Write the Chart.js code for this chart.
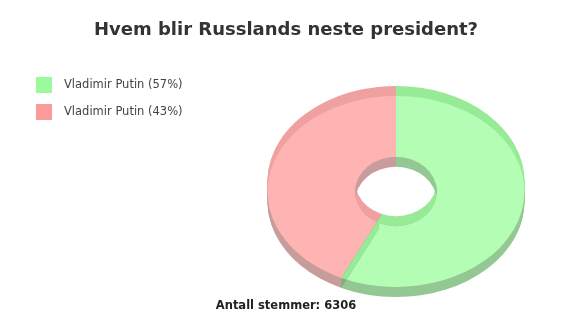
<!DOCTYPE html>
<html>
<head>
<meta charset="utf-8">
<title>Hvem blir Russlands neste president?</title>
<script src="https://cdn.jsdelivr.net/npm/chart.js@4.4.1/dist/chart.umd.min.js"></script>
<style>
  html, body { margin: 0; padding: 0; background: #fff; }
  #wrap { width: 588px; height: 329px; }
</style>
</head>
<body>
<div id="wrap"><canvas id="poll"></canvas></div>
<script>
const labels = ['Vladimir Putin', 'Vladimir Putin'];
const votes = [57, 43];          // share of the votes, %
const totalVotes = 6306;

const faceColors = ['#b4fdb4', '#ffb4b4'];
const rimColors = ['#97eb97', '#efa0a0'];
const wallColors = ['#93c793', '#c99c9c'];
const legendColors = ['#9cfa9c', '#fe9a9a'];

const TILT = 0.743;      // how flat the top of the ring is drawn
const HOLE_TILT = 0.85;  // the inner rim reads a bit rounder
const DEPTH = 10;        // thickness of the ring in px

Chart.defaults.font.family = '"DejaVu Sans", Verdana, sans-serif';

function swatch(color) {
  const c = document.createElement('canvas');
  c.width = 16;
  c.height = 16;
  const g = c.getContext('2d');
  g.fillStyle = color;
  g.fillRect(0, 0, 16, 16);
  return c;
}

function wedge(ctx, a, dy, r, k) {
  ctx.beginPath();
  ctx.moveTo(a.x, a.y + dy);
  ctx.ellipse(a.x, a.y + dy, r, r * k, 0, a.startAngle, a.endAngle);
  ctx.closePath();
}

function oval(ctx, a, dy, r, k) {
  ctx.beginPath();
  ctx.ellipse(a.x, a.y + dy, r, r * k, 0, 0, Math.PI * 2);
}

// fixed legend column so the ring sits right of it
const legendWidth = {
  id: 'legendWidth',
  beforeInit(chart) {
    const fit = chart.legend.fit;
    chart.legend.fit = function () {
      fit.call(this);
      this.width = 220;
    };
  }
};

// fake 3d: rim and wall below the arcs, flattened arcs on top, then the hole
const pie3d = {
  id: 'pie3d',
  beforeDatasetsDraw(chart) {
    const ctx = chart.ctx;
    const arcs = chart.getDatasetMeta(0).data;
    ctx.save();
    arcs.forEach((a, i) => {
      ctx.fillStyle = rimColors[i];
      for (let d = 1; d <= DEPTH; d++) {
        wedge(ctx, a, -d, a.outerRadius, TILT);
        ctx.fill();
      }
    });
    arcs.forEach((a, i) => {
      ctx.fillStyle = wallColors[i];
      for (let d = 1; d <= DEPTH; d++) {
        wedge(ctx, a, d, a.outerRadius, TILT);
        ctx.fill();
      }
    });
    const {x, y} = arcs[0];
    ctx.translate(x, y);
    ctx.scale(1, TILT);
    ctx.translate(-x, -y);
  },
  afterDatasetsDraw(chart) {
    const ctx = chart.ctx;
    ctx.restore();
    const arcs = chart.getDatasetMeta(0).data;

    // cut face where a slice ends on the front half
    arcs.forEach((a, i) => {
      const c = Math.cos(a.endAngle);
      const s = Math.sin(a.endAngle);
      if (s <= 0) return;
      const ix = a.x + a.innerRadius * c, iy = a.y + a.innerRadius * TILT * s;
      const ox = a.x + a.outerRadius * c, oy = a.y + a.outerRadius * TILT * s;
      ctx.save();
      ctx.beginPath();
      ctx.moveTo(ix, iy);
      ctx.lineTo(ox, oy);
      ctx.lineTo(ox, oy + DEPTH);
      ctx.lineTo(ix, iy + DEPTH);
      ctx.closePath();
      ctx.fillStyle = wallColors[i];
      ctx.fill();
      ctx.fillStyle = 'rgba(0,0,0,0.12)';
      ctx.fill();
      oval(ctx, a, 0, a.outerRadius, TILT);
      ctx.clip();
      ctx.beginPath();
      ctx.moveTo(ix, iy);
      ctx.lineTo(ox, oy);
      ctx.lineTo(ox, oy + DEPTH);
      ctx.lineTo(ix, iy + DEPTH);
      ctx.closePath();
      ctx.fillStyle = rimColors[i];
      ctx.fill();
      ctx.restore();
    });

    // inner wall seen through the hole
    const a0 = arcs[0];
    const r = a0.innerRadius;
    arcs.forEach((a, i) => {
      ctx.save();
      wedge(ctx, a, 0, a.outerRadius, TILT);
      ctx.clip();
      ctx.fillStyle = wallColors[i];
      oval(ctx, a, 0, r, HOLE_TILT);
      ctx.fill();
      oval(ctx, a, 0, r, HOLE_TILT);
      ctx.clip();
      ctx.fillStyle = rimColors[i];
      oval(ctx, a, DEPTH, r, HOLE_TILT);
      ctx.fill();
      ctx.restore();
    });
    ctx.save();
    oval(ctx, a0, DEPTH, r, HOLE_TILT);
    ctx.clip();
    ctx.fillStyle = '#fff';
    oval(ctx, a0, -DEPTH, r, HOLE_TILT);
    ctx.fill();
    ctx.restore();
  }
};

new Chart(document.getElementById('poll'), {
  type: 'doughnut',
  data: {
    labels: labels,
    datasets: [{
      data: votes,
      backgroundColor: faceColors,
      borderWidth: 0,
      hoverOffset: 0,
      radius: 128.5,
      cutout: '31.8%'
    }]
  },
  options: {
    responsive: true,
    maintainAspectRatio: false,
    animation: false,
    events: [],
    layout: { padding: { left: 14.75, right: 30.75 } },
    plugins: {
      title: {
        display: true,
        text: 'Hvem blir Russlands neste president?',
        color: '#333',
        font: { size: 18, weight: 'bold' },
        padding: { top: 19.2, bottom: 43.2 }
      },
      subtitle: {
        display: true,
        position: 'bottom',
        text: 'Antall stemmer: ' + totalVotes,
        color: '#222',
        font: { size: 11.5, weight: 'bold' },
        padding: { top: 0, bottom: 16.2 }
      },
      legend: {
        position: 'left',
        align: 'start',
        title: { display: true, text: '', padding: { top: 50, bottom: 0 } },
        labels: {
          usePointStyle: true,
          pointStyleWidth: 28.5,
          padding: 15,
          font: { size: 11.5 },
          generateLabels(chart) {
            const data = chart.data.datasets[0].data;
            const sum = data.reduce((s, v) => s + v, 0);
            return chart.data.labels.map((label, i) => ({
              text: label + ' (' + Math.round(data[i] / sum * 100) + '%)',
              pointStyle: swatch(legendColors[i]),
              fontColor: '#444',
              lineWidth: 0,
              hidden: false,
              index: i
            }));
          }
        }
      },
      tooltip: { enabled: false }
    }
  },
  plugins: [legendWidth, pie3d]
});
</script>
</body>
</html>
